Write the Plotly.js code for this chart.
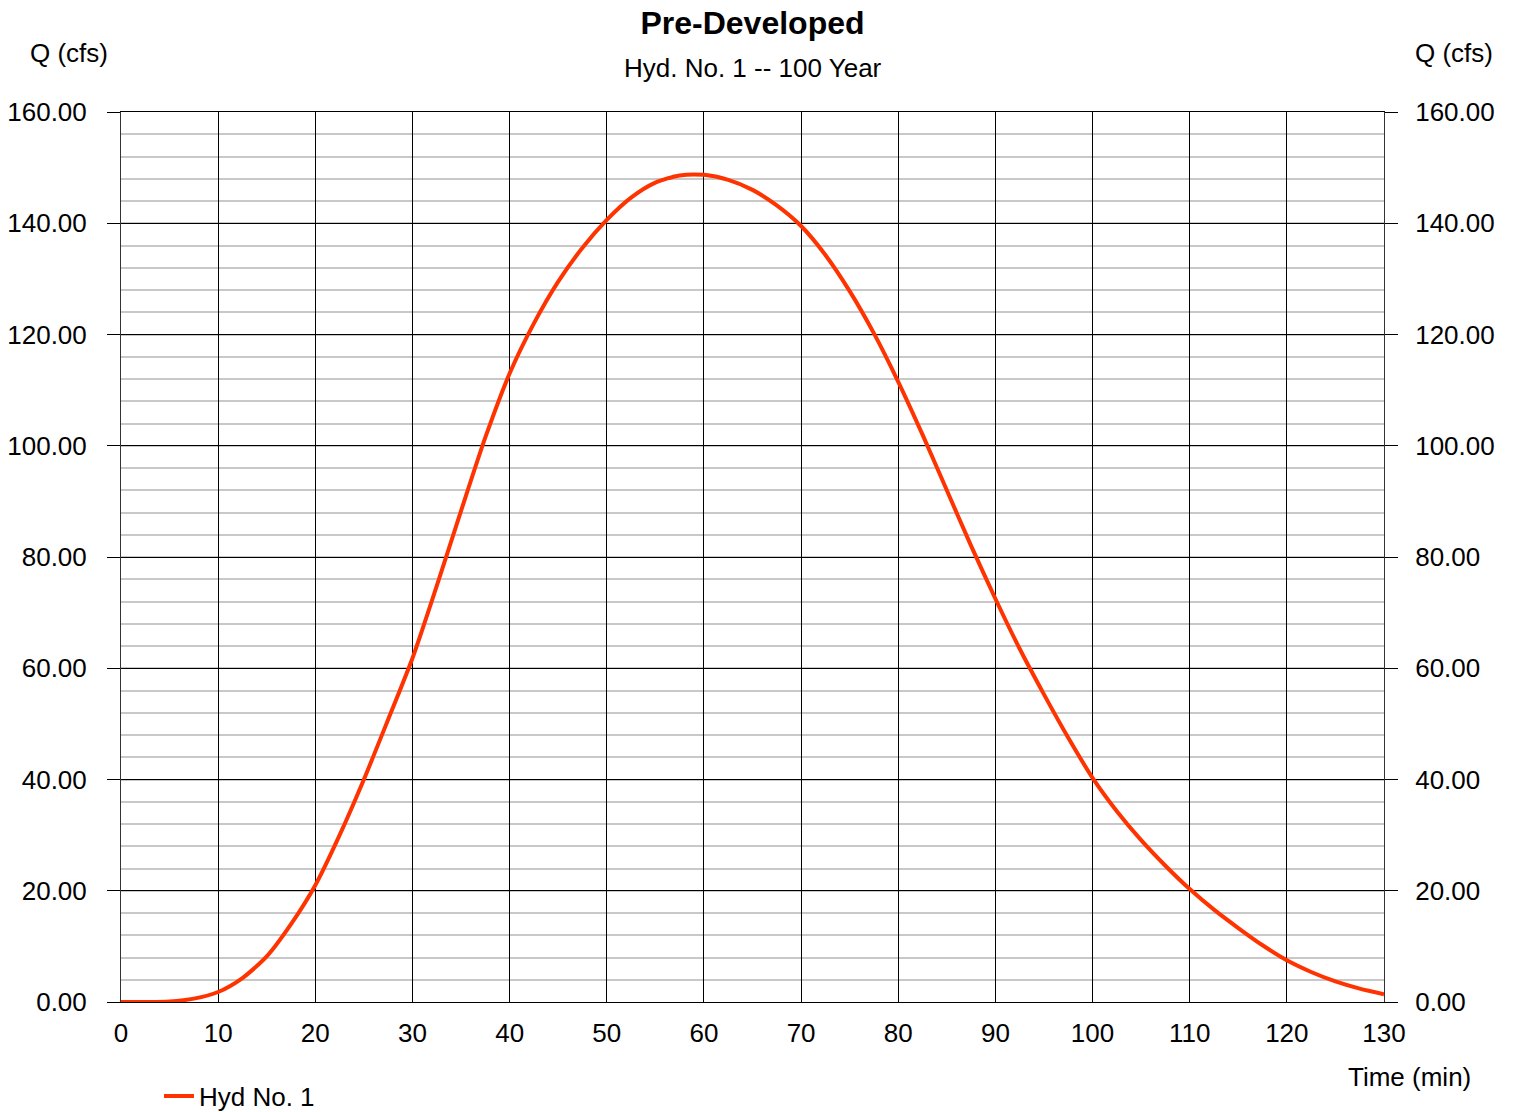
<!DOCTYPE html>
<html>
<head>
<meta charset="utf-8">
<script src="https://cdn.plot.ly/plotly-3.0.1.min.js"></script>
<style>html,body{margin:0;padding:0;background:#fff;}#chart{width:1514px;height:1112px;}</style>
</head>
<body>
<div id="chart"></div>
<script>
// Time (min)
const timeMin = [0, 2.5, 5, 7.5, 10, 12.5, 15, 17.5, 20, 22.5, 25, 27.5, 30, 32.5, 35, 37.5, 40, 42.5, 45, 47.5, 50, 52.5, 55, 57.5, 60, 62.5, 65, 67.5, 70, 72.5, 75, 77.5, 80, 82.5, 85, 87.5, 90, 92.5, 95, 97.5, 100, 102.5, 105, 107.5, 110, 112.5, 115, 117.5, 120, 122.5, 125, 127.5, 130];
// Q (cfs), Hyd No. 1
const flowCfs = [0, 0, 0.1, 0.6, 1.8, 4.3, 8.2, 14.0, 21.0, 30.0, 40.0, 50.8, 61.8, 74.8, 88.3, 101.5, 113.0, 122.0, 129.5, 135.6, 140.6, 144.6, 147.3, 148.6, 148.7, 147.8, 146.0, 143.2, 139.5, 134.3, 127.8, 120.2, 111.5, 102.0, 92.0, 82.0, 72.5, 63.5, 55.3, 47.5, 40.3, 34.3, 29.1, 24.5, 20.3, 16.6, 13.3, 10.2, 7.5, 5.4, 3.7, 2.4, 1.4];
const seriesName = "Hyd No. 1";
const xTicks = [0, 10, 20, 30, 40, 50, 60, 70, 80, 90, 100, 110, 120, 130];
const yTicks = [0, 20, 40, 60, 80, 100, 120, 140, 160];

const FONT = "Arial, 'Liberation Sans', sans-serif";
const lineColor = "#ff3300";
const FS = 26;

const traces = [
  {
    x: timeMin, y: flowCfs, type: "scatter", mode: "lines", name: seriesName,
    line: {color: lineColor, width: 4, shape: "spline", smoothing: 0.7},
    xaxis: "x", yaxis: "y"
  },
  {
    x: timeMin, y: flowCfs, type: "scatter", mode: "lines", name: "_right",
    line: {color: "rgba(0,0,0,0)", width: 0}, showlegend: false, hoverinfo: "skip",
    xaxis: "x", yaxis: "y2"
  }
];

const yCommon = {
  range: [0, 160], tickvals: yTicks, tickformat: ".2f",
  ticks: "outside", ticklen: 13, tickcolor: "#000", tickwidth: 1,
  tickfont: {family: FONT, size: FS, color: "#000"},
  zeroline: false, fixedrange: true
};

const layout = {
  width: 1514, height: 1112,
  paper_bgcolor: "#fff", plot_bgcolor: "#fff",
  margin: {l: 121, r: 130, t: 112, b: 110, autoexpand: false},
  font: {family: FONT, color: "#000"},
  title: {
    text: "<b>Pre-Developed</b>",
    font: {family: FONT, size: 32, color: "#000"},
    x: 0.5, xanchor: "center", xref: "paper",
    y: 0.9793, yref: "container", yanchor: "middle"
  },
  xaxis: {
    range: [0, 130], tickvals: xTicks, ticks: "",
    tickfont: {family: FONT, size: FS, color: "#000"},
    ticklabelstandoff: 8,
    showgrid: true, gridcolor: "#000", gridwidth: 1,
    showline: true, linecolor: "#000", linewidth: 1, mirror: true,
    zeroline: false, fixedrange: true
  },
  yaxis: Object.assign({}, yCommon, {
    side: "left", ticklabelstandoff: 15,
    showline: true, linecolor: "#333", linewidth: 1, mirror: true,
    showgrid: true, gridcolor: "#000", gridwidth: 1,
    minor: {dtick: 4, tick0: 0, showgrid: true, gridcolor: "#c8c8c8", gridwidth: 2, ticks: ""}
  }),
  yaxis2: Object.assign({}, yCommon, {
    side: "right", overlaying: "y", matches: "y", showgrid: false, showline: false,
    ticklabelstandoff: 12
  }),
  showlegend: true,
  legend: {
    orientation: "h", x: 0.105, xanchor: "left", xref: "container",
    y: 0.0144, yanchor: "middle", yref: "container",
    font: {family: FONT, size: FS, color: "#000"},
    bgcolor: "rgba(0,0,0,0)", borderwidth: 0
  },
  annotations: [
    {text: "Hyd. No. 1 -- 100 Year", xref: "paper", yref: "paper", x: 0.5, y: 1.0494, xanchor: "center", yanchor: "middle", showarrow: false, font: {family: FONT, size: FS, color: "#000"}},
    {text: "Q (cfs)", xref: "paper", yref: "paper", x: -0.0736, y: 1.0663, xanchor: "left", yanchor: "middle", showarrow: false, font: {family: FONT, size: FS, color: "#000"}},
    {text: "Q (cfs)", xref: "paper", yref: "paper", x: 1.0879, y: 1.0663, xanchor: "right", yanchor: "middle", showarrow: false, font: {family: FONT, size: FS, color: "#000"}},
    {text: "Time (min)", xref: "paper", yref: "paper", x: 1.0705, y: -0.0843, xanchor: "right", yanchor: "middle", showarrow: false, font: {family: FONT, size: FS, color: "#000"}}
  ]
};

Plotly.newPlot("chart", traces, layout, {displayModeBar: false, staticPlot: true});
</script>
</body>
</html>
